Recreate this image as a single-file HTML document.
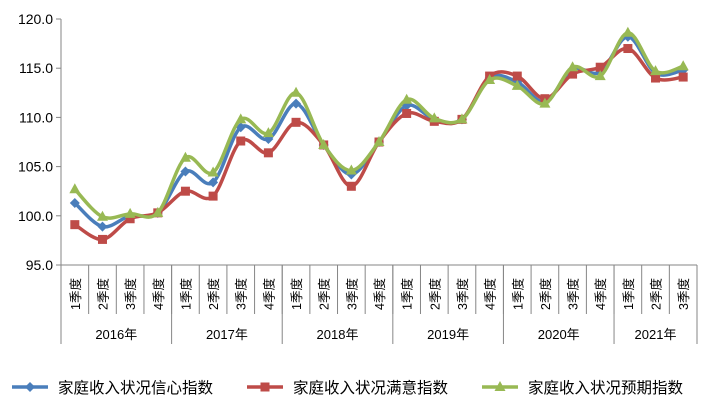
<!DOCTYPE html>
<html><head><meta charset="utf-8">
<style>body{margin:0;background:#fff}svg{display:block}text{font-family:"Liberation Sans","Noto Sans CJK SC",sans-serif}</style>
</head><body>
<svg id="c" width="709" height="419"></svg>
<script>
const years=["2016年","2017年","2018年","2019年","2020年","2021年"];
const quarters=["1季度","2季度","3季度","4季度","1季度","2季度","3季度","4季度","1季度","2季度","3季度","4季度","1季度","2季度","3季度","4季度","1季度","2季度","3季度","4季度","1季度","2季度","3季度"];
const yearSpans=[4,4,4,4,4,3];
const yTicks=[95,100,105,110,115,120];
const confidence=[101.3,98.9,100.0,100.3,104.5,103.4,109.0,107.8,111.4,107.2,104.2,107.5,111.2,109.8,109.8,114.0,113.6,111.6,114.9,114.6,118.2,114.5,114.8];
const satisfaction=[99.1,97.6,99.7,100.3,102.5,102.0,107.6,106.4,109.5,107.2,103.0,107.5,110.4,109.6,109.8,114.2,114.2,111.9,114.4,115.1,117.0,114.0,114.1];
const expectation=[102.7,99.9,100.2,100.3,105.9,104.4,109.8,108.4,112.5,107.2,104.6,107.5,111.8,109.9,109.8,113.8,113.2,111.4,115.1,114.2,118.6,114.7,115.2];
const seriesNames=["家庭收入状况信心指数","家庭收入状况满意指数","家庭收入状况预期指数"];
const colors=["#4a7ebb","#be4b48","#98b954"];
const NS="http://www.w3.org/2000/svg";
const svg=document.getElementById('c');
const L=61,R=697,T=19,B=265,ymin=95,ymax=120;
const cw=(R-L)/quarters.length;
const X=i=>L+cw*(i+0.5);
const Y=v=>B-(v-ymin)/(ymax-ymin)*(B-T);
function mk(tag,at,parent){const e=document.createElementNS(NS,tag);for(const k in at)e.setAttribute(k,at[k]);(parent||svg).appendChild(e);return e;}
// axes
let ax=mk('line',{x1:L,y1:T,x2:L,y2:B,stroke:'#868686'});


let bx=mk('line',{x1:L,y1:B,x2:R,y2:B,stroke:'#868686'});


yTicks.forEach(v=>{
  mk('line',{x1:L-5,y1:Y(v),x2:L,y2:Y(v),stroke:'#868686'});
  const t=mk('text',{x:L-8,y:Y(v)+5,'text-anchor':'end','font-size':14,fill:'#000'});
  t.textContent=v.toFixed(1);
  
  
});
quarters.forEach((q,i)=>{
  mk('line',{x1:L+cw*i,y1:B,x2:L+cw*i,y2:314,stroke:'#868686'});
  const t=mk('text',{transform:`translate(${X(i)+5},294) rotate(-90)`,'text-anchor':'middle','font-size':12.5,fill:'#000'});
  t.textContent=q;
  
  
});
mk('line',{x1:R,y1:B,x2:R,y2:344,stroke:'#868686'});
let s=0;
years.forEach((y,k)=>{
  mk('line',{x1:L+cw*s,y1:B,x2:L+cw*s,y2:344,stroke:'#868686'});
  const t=mk('text',{x:L+cw*(s+yearSpans[k]/2),y:339,'text-anchor':'middle','font-size':13,fill:'#000'});
  t.textContent=y;
  
  
  s+=yearSpans[k];
});
function smooth(pts){
  let d=`M${pts[0][0]},${pts[0][1]}`;
  for(let i=0;i<pts.length-1;i++){
    const p0=pts[Math.max(0,i-1)],p1=pts[i],p2=pts[i+1],p3=pts[Math.min(pts.length-1,i+2)];
    const c1=[p1[0]+(p2[0]-p0[0])/6,p1[1]+(p2[1]-p0[1])/6];
    const c2=[p2[0]-(p3[0]-p1[0])/6,p2[1]-(p3[1]-p1[1])/6];
    d+=` C${c1[0]},${c1[1]} ${c2[0]},${c2[1]} ${p2[0]},${p2[1]}`;
  }
  return d;
}
function marker(type,x,y,c,g){
  if(type===0) return mk('path',{d:`M${x},${y-5}L${x+5},${y}L${x},${y+5}L${x-5},${y}Z`,fill:c},g);
  if(type===1) return mk('rect',{x:x-4.5,y:y-4.5,width:9,height:9,fill:c},g);
  return mk('path',{d:`M${x},${y-6}L${x+5.5},${y+4}L${x-5.5},${y+4}Z`,fill:c},g);
}
[confidence,satisfaction,expectation].forEach((arr,k)=>{
  const g=mk('g',{});
  
  
  const pts=arr.map((v,i)=>[X(i),Y(v)]);
  const p=mk('path',{d:smooth(pts),fill:'none',stroke:colors[k],'stroke-width':3.5,'stroke-linejoin':'round'},g);
  
  
  pts.forEach(pt=>{
    const m=marker(k,pt[0],pt[1],colors[k],g);
    
    
  });
});
// legend
const lx=[12,247,482];
seriesNames.forEach((n,k)=>{
  const g=mk('g',{});
  
  
  mk('line',{x1:lx[k],y1:387,x2:lx[k]+36,y2:387,stroke:colors[k],'stroke-width':3.5},g);
  marker(k,lx[k]+18,387,colors[k],g);
  const t=mk('text',{x:lx[k]+46,y:393,'font-size':15.5,fill:'#000'},g);
  t.textContent=n;
});
</script>
</body></html>
